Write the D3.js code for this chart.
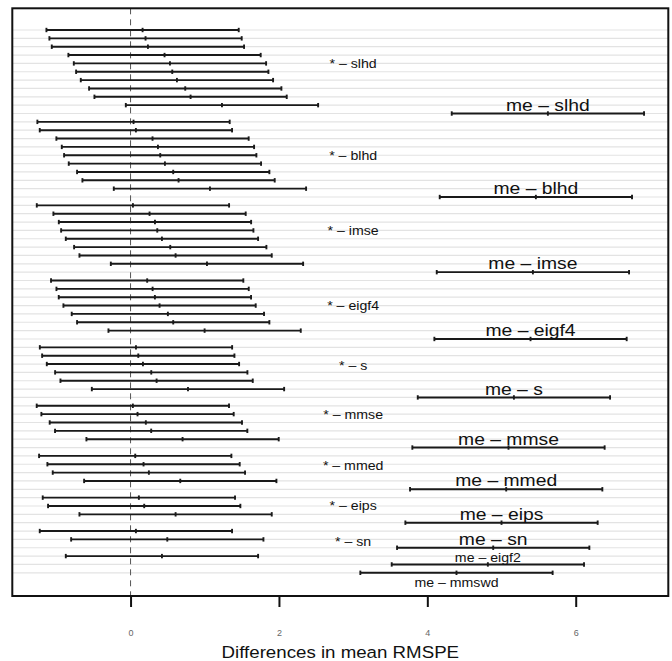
<!DOCTYPE html>
<html lang="en">

<head>
    <meta charset="UTF-8">
    <title>Differences in mean RMSPE</title>
    <script src="https://d3js.org/d3.v7.min.js"></script>
    <style>
        body {
            margin: 0;
            background: #fff;
        }

        text {
            font-family: "Liberation Sans", Arial, sans-serif;
            fill: #111;
        }

        .grid line {
            stroke: #e3e3e3;
            stroke-width: 1.2px;
        }

        .ci line {
            stroke: #1a1a1a;
            stroke-width: 1.9px;
        }

        .tick-label {
            font-size: 9px;
            fill: #666;
        }
    </style>
</head>

<body>
    <script>
        // factor levels, in the order the comparisons are made
        const levels = ["slhd", "blhd", "imse", "eigf4", "s", "mmse", "mmed", "eips", "sn", "eigf2", "mmswd", "me"];

        // differences (top to bottom)
        const diff = [
            0.162, 0.202, 0.234, 0.458, 0.531, 0.562, 0.625, 0.737, 0.809, 1.232, 5.625,
            0.040, 0.072, 0.296, 0.369, 0.400, 0.463, 0.575, 0.647, 1.070, 5.463,
            0.032, 0.256, 0.329, 0.360, 0.423, 0.535, 0.607, 1.030, 5.423,
            0.224, 0.297, 0.328, 0.391, 0.503, 0.575, 0.998, 5.391,
            0.073, 0.104, 0.167, 0.279, 0.351, 0.774, 5.167,
            0.031, 0.094, 0.206, 0.278, 0.701, 5.094,
            0.063, 0.175, 0.247, 0.670, 5.063,
            0.112, 0.184, 0.607, 5.000,
            0.072, 0.495, 4.888,
            0.423, 4.816,
            4.393
        ];
        const lwr = [
            -1.134, -1.094, -1.062, -0.838, -0.765, -0.734, -0.671, -0.559, -0.487, -0.064, 4.329,
            -1.256, -1.224, -1.000, -0.927, -0.896, -0.833, -0.721, -0.649, -0.226, 4.167,
            -1.264, -1.040, -0.967, -0.936, -0.873, -0.761, -0.689, -0.266, 4.127,
            -1.072, -0.999, -0.968, -0.905, -0.793, -0.721, -0.298, 4.095,
            -1.223, -1.192, -1.129, -1.017, -0.945, -0.522, 3.871,
            -1.265, -1.202, -1.090, -1.018, -0.595, 3.798,
            -1.233, -1.121, -1.049, -0.626, 3.767,
            -1.184, -1.112, -0.689, 3.704,
            -1.224, -0.801, 3.592,
            -0.873, 3.520,
            3.097
        ];
        const upr = [
            1.458, 1.498, 1.530, 1.754, 1.827, 1.858, 1.921, 2.033, 2.105, 2.528, 6.921,
            1.336, 1.368, 1.592, 1.665, 1.696, 1.759, 1.871, 1.943, 2.366, 6.759,
            1.328, 1.552, 1.625, 1.656, 1.719, 1.831, 1.903, 2.326, 6.719,
            1.520, 1.593, 1.624, 1.687, 1.799, 1.871, 2.294, 6.687,
            1.369, 1.400, 1.463, 1.575, 1.647, 2.070, 6.463,
            1.327, 1.390, 1.502, 1.574, 1.997, 6.390,
            1.359, 1.471, 1.543, 1.966, 6.359,
            1.408, 1.480, 1.903, 6.296,
            1.368, 1.791, 6.184,
            1.719, 6.112,
            5.689
        ];

        const xTicks = [0, 2, 4, 6];

        // "* – x" group labels: text position (x value, row) 
        const groupLabels = ["slhd", "blhd", "imse", "eigf4", "s", "mmse", "mmed", "eips", "sn"];
        const groupLabelRows = [4.55, 15.57, 24.6, 33.5, 40.7, 46.6, 52.7, 57.5, 61.8];

        // build comparison rows: level j minus level i, for j > i
        const rows = [];
        levels.forEach((a, i) => {
            levels.slice(i + 1).forEach(b => {
                const k = rows.length;
                rows.push({ name: `${b}-${a}`, hi: b, lo: a, diff: diff[k], lwr: lwr[k], upr: upr[k], row: k });
            });
        });

        const width = 672;
        const height = 661;
        const box = { left: 12.3, right: 668.3, top: 8.3, bottom: 596 };

        const x = d3.scaleLinear().domain([-1.594, 7.248]).range([box.left, box.right]);
        const y = d3.scaleLinear().domain([-2.6, 67.78]).range([box.top, box.bottom]);

        const svg = d3.select("body").append("svg")
            .attr("width", width)
            .attr("height", height);

        // light grid line at every comparison
        svg.append("g")
            .attr("class", "grid")
            .selectAll("line")
            .data(rows)
            .enter().append("line")
            .attr("x1", box.left)
            .attr("x2", box.right)
            .attr("y1", d => y(d.row))
            .attr("y2", d => y(d.row));

        svg.append("line")
            .attr("x1", x(0))
            .attr("x2", x(0))
            .attr("y1", box.top)
            .attr("y2", box.bottom)
            .attr("stroke", "#555")
            .attr("stroke-width", 1)
            .attr("stroke-dasharray", "6,5");

        // intervals
        const ci = svg.append("g")
            .attr("class", "ci")
            .selectAll("g")
            .data(rows)
            .enter().append("g")
            .attr("transform", d => `translate(0,${y(d.row)})`);

        ci.append("line")
            .attr("x1", d => x(d.lwr))
            .attr("x2", d => x(d.upr));

        ci.selectAll("line.mark")
            .data(d => [d.lwr, d.diff, d.upr])
            .enter().append("line")
            .attr("class", "mark")
            .attr("x1", v => x(v))
            .attr("x2", v => x(v))
            .attr("y1", -2.2)
            .attr("y2", 2.2);

        // labels; the picture's text is a bit wider than tall, so stretch it
        const stretch = (px, py, sx) => `translate(${px},${py}) scale(${sx},1)`;

        svg.append("g")
            .selectAll("text")
            .data(groupLabels)
            .enter().append("text")
            .attr("text-anchor", "middle")
            .attr("font-size", 12)
            .attr("transform", (d, i) => stretch(x(3), y(groupLabelRows[i]), 1.18))
            .text(d => `* \u2013 ${d}`);

        const meRows = rows.filter(d => d.hi === "me");
        svg.append("g")
            .selectAll("text")
            .data(meRows)
            .enter().append("text")
            .attr("text-anchor", "middle")
            .attr("font-size", d => (d.lo === "eigf2" || d.lo === "mmswd") ? 12.3 : 16.8)
            .attr("transform", d => {
                const dy = d.lo === "mmswd" ? 14 : -2.8;
                return stretch(x(d.diff), y(d.row) + dy, 1.15);
            })
            .text(d => `me \u2013 ${d.lo}`);

        // frame
        svg.append("rect")
            .attr("x", box.left)
            .attr("y", box.top)
            .attr("width", box.right - box.left)
            .attr("height", box.bottom - box.top)
            .attr("fill", "none")
            .attr("stroke", "#111")
            .attr("stroke-width", 2);

        // x axis
        const axis = svg.append("g")
            .attr("transform", `translate(0,${box.bottom})`)
            .call(d3.axisBottom(x).tickValues(xTicks).tickSize(11).tickPadding(23).tickFormat(d3.format("d")));
        axis.select(".domain").remove();
        axis.selectAll(".tick line").attr("stroke", "#111").attr("stroke-width", 2);
        axis.selectAll(".tick text")
            .attr("class", "tick-label")
            .attr("font-family", null)
            .attr("font-size", null);

        svg.append("text")
            .attr("text-anchor", "middle")
            .attr("font-size", 17)
            .attr("transform", stretch((box.left + box.right) / 2, 658.3, 1.1))
            .text("Differences in mean RMSPE");
    </script>
</body>

</html>
